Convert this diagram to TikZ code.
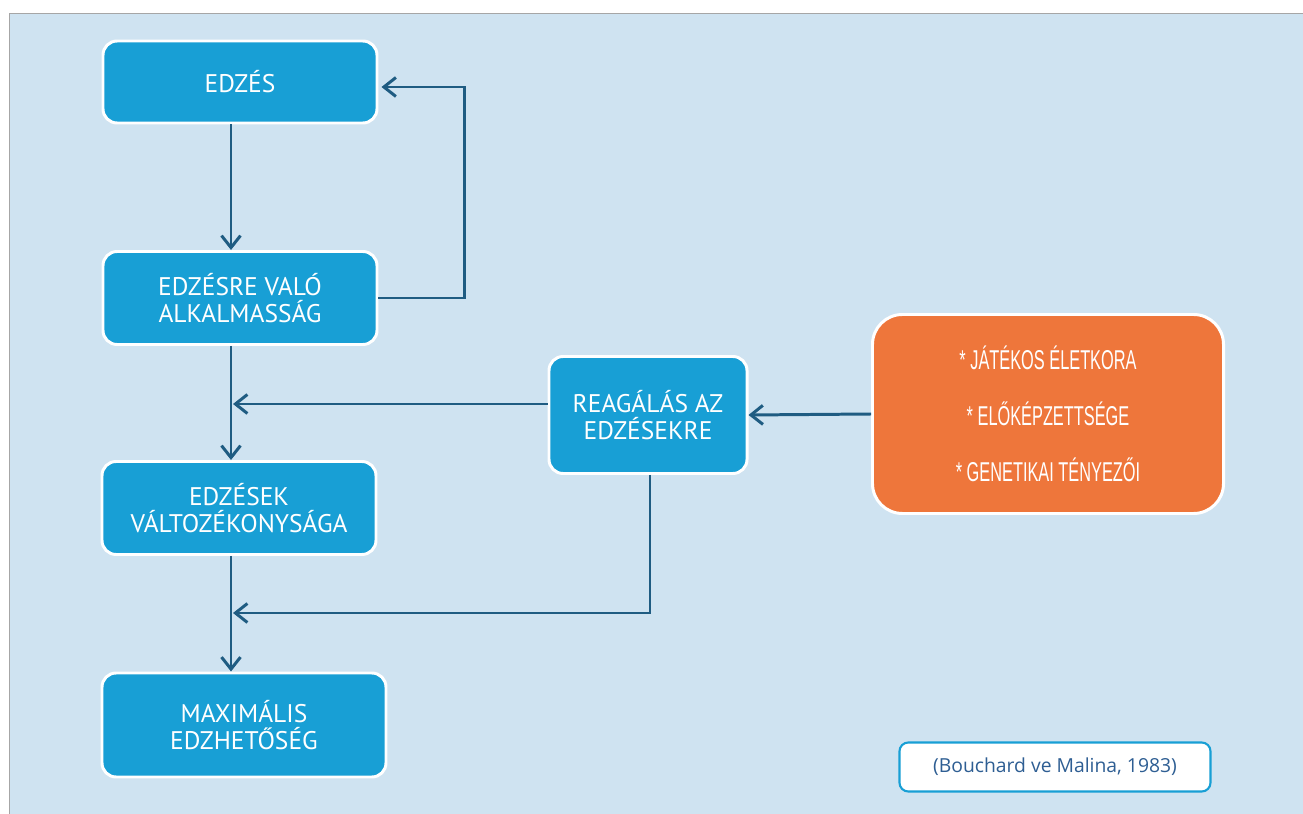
\documentclass[tikz,border=0pt]{standalone}
\usepackage{fontspec}
\setmainfont{PT Sans}
\newfontfamily\narrowfont[FakeStretch=0.6]{Liberation Sans}
\newfontfamily\citefont{Open Sans}
\usetikzlibrary{arrows.meta,positioning,calc}
\definecolor{panelblue}{HTML}{CFE3F1}
\definecolor{boxblue}{HTML}{189FD5}
\definecolor{boxorange}{HTML}{EE763B}
\definecolor{linkblue}{HTML}{1F5C82}
\definecolor{citeblue}{HTML}{2E5E93}

\begin{document}
\begin{tikzpicture}[x=0.2mm, y=-0.2mm,
  stage/.style={draw=white, line width=1.7pt, fill=boxblue, rounded corners=8pt, text=white, font=\fontsize{14.5}{15.5}\selectfont, align=center},
  factors/.style={draw=white, line width=1.7pt, fill=boxorange, rounded corners=17pt, text=white, font=\narrowfont\fontsize{15.5}{32}\selectfont, align=center},
  source/.style={draw=boxblue, line width=1.2pt, fill=white, rounded corners=5pt, text=citeblue, font=\citefont\fontsize{11}{13}\selectfont},
  flow/.style={draw=linkblue, line width=1.7pt, -{Straight Barb[length=2.4mm, width=3.8mm]}},
  link/.style={draw=linkblue, line width=1.7pt}]
\useasboundingbox (0,0) rectangle (1303,814);
\fill[white] (0,0) rectangle (1303,814);
\fill[panelblue] (9,13) rectangle (1303,814);
\draw[gray!70, line width=0.5pt] (9,814) -- (9,13) -- (1303,13);
\node[stage, minimum width=5.48cm, minimum height=1.64cm] (edzes) at (240,82) {EDZÉS};
\node[stage, minimum width=5.48cm, minimum height=1.86cm] (alkalm) at (240,298) {EDZÉSRE VALÓ\\ALKALMASSÁG};
\node[stage, minimum width=5.48cm, minimum height=1.86cm] (valtoz) at (239,508) {EDZÉSEK\\VÁLTOZÉKONYSÁGA};
\node[stage, minimum width=5.68cm, minimum height=2.08cm] (maximal) at (244,725) {MAXIMÁLIS\\EDZHETŐSÉG};
\node[stage, minimum width=3.96cm, minimum height=2.34cm] (reag) at (648,415) {REAGÁLÁS AZ\\EDZÉSEKRE};
\node[factors, minimum width=7.02cm, minimum height=3.98cm] (tenyezok) at (1048,414) {* JÁTÉKOS ÉLETKORA\\* ELŐKÉPZETTSÉGE\\* GENETIKAI TÉNYEZŐI};
\node[source, minimum width=6.22cm, minimum height=0.98cm] (forras) at (1055,767) {(Bouchard ve Malina, 1983)};
\coordinate (j1) at (233,404);
\coordinate (j2) at (233,613);
% main line
\draw[flow] ($(edzes.south)+(-9,0)$) -- ($(alkalm.north)+(-9,0)$);
\draw[flow] ($(alkalm.south)+(-9,0)$) -- ($(valtoz.north)+(-8,0)$);
\draw[flow] ($(valtoz.south)+(-8,0)$) -- ($(maximal.north)+(-13,0)$);
% feedback
\draw[flow] (alkalm.east) -- ++(86,0) |- ($(edzes.east)+(3,5)$);
% side inputs
\draw[flow] ($(reag.west)+(0,-11)$) -- (j1);
\draw[flow] ($(reag.south)+(2,0)$) |- (j2);
\draw[flow] (tenyezok.west) -- (reag.east);
\end{tikzpicture}
\end{document}
